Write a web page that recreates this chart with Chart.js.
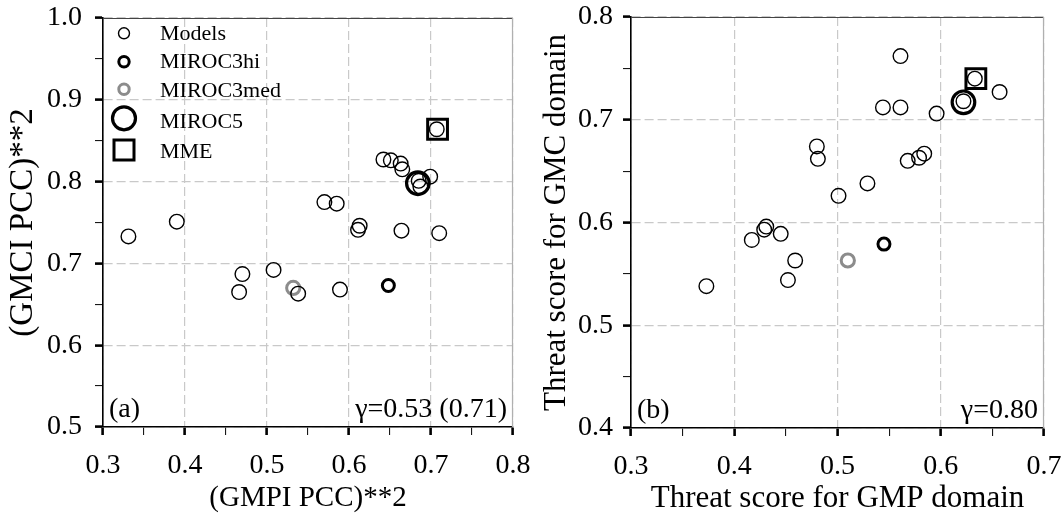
<!DOCTYPE html>
<html><head><meta charset="utf-8">
<script src="https://cdn.jsdelivr.net/npm/chart.js@4.4.1/dist/chart.umd.min.js"></script>
<style>
html,body{margin:0;padding:0;background:#fff;overflow:hidden}
#wrapA{position:absolute;left:0;top:0;width:530px;height:520px}
#wrapB{position:absolute;left:530px;top:0;width:531px;height:520px}
</style></head><body>
<div id="wrapA"><canvas id="cA" width="530" height="520"></canvas></div>
<div id="wrapB"><canvas id="cB" width="531" height="520"></canvas></div>
<script>
// ---------- data ----------
const seriesNames = ['Models', 'MIROC3hi', 'MIROC3med', 'MIROC5', 'MME'];

// panel (a)
const modelsA_x = [0.331,0.390,0.466,0.470,0.508,0.538,0.589,0.570,0.585,0.613,0.611,0.664,0.710,0.642,0.651,0.663,0.665,0.699,0.685,0.687,0.707];
const modelsA_y = [0.733,0.751,0.665,0.687,0.692,0.663,0.668,0.775,0.773,0.746,0.741,0.740,0.737,0.827,0.826,0.822,0.815,0.806,0.801,0.794,0.864];
const miroc3hiA = [0.648, 0.673];
const miroc3medA = [0.532, 0.670];
const miroc5A = [0.684, 0.798];
const mmeA = [0.708, 0.864];
const xTicksA = ['0.3','0.4','0.5','0.6','0.7','0.8'];
const yTicksA = ['0.5','0.6','0.7','0.8','0.9','1.0'];

// panel (b)
const modelsB_x = [0.373,0.417,0.429,0.431,0.445,0.459,0.452,0.501,0.529,0.480,0.481,0.568,0.579,0.584,0.544,0.561,0.561,0.596,0.622,0.633,0.657];
const modelsB_y = [0.538,0.583,0.593,0.596,0.589,0.563,0.544,0.626,0.638,0.674,0.662,0.660,0.663,0.667,0.712,0.712,0.762,0.706,0.718,0.740,0.727];
const miroc3hiB = [0.545, 0.579];
const miroc3medB = [0.510, 0.563];
const miroc5B = [0.622, 0.717];
const mmeB = [0.634, 0.740];
const xTicksB = ['0.3','0.4','0.5','0.6','0.7'];
const yTicksB = ['0.4','0.5','0.6','0.7','0.8'];

const panelLabels = ['(a)', '(b)'];
const gammaTexts = ['\u03B3=0.53 (0.71)', '\u03B3=0.80'];
const axisTitles = {
  ax: '(GMPI PCC)**2', ay: '(GMCI PCC)**2',
  bx: 'Threat score for GMP domain', by: 'Threat score for GMC domain'
};

// ---------- chart helpers ----------
const FONT = '"Liberation Serif", "Times New Roman", serif';
Chart.defaults.font.family = FONT;
Chart.defaults.color = '#000';

function toPts(xs, ys) { return xs.map((x, i) => ({x: x, y: ys[i]})); }
function pt(p) { return [{x: p[0], y: p[1]}]; }

function majorLabel(labels, v) {
  const i = labels.findIndex(l => Math.abs(parseFloat(l) - v) < 1e-6);
  return i >= 0 ? labels[i] : null;
}

function makeScale(axis, labels, title, fixed, tickPad, titleSize, titlePad) {
  const min = parseFloat(labels[0]), max = parseFloat(labels[labels.length - 1]);
  return {
    type: 'linear', min: min, max: max,
    ticks: {
      stepSize: 0.05, autoSkip: false, maxRotation: 0, color: '#000',
      font: {size: 28, family: FONT}, padding: tickPad,
      callback: (v) => { const l = majorLabel(labels, v); return l === null ? '' : l; }
    },
    grid: {
      color: (c) => (c.tick && majorLabel(labels, c.tick.value) !== null) ? '#c9c9c9' : 'rgba(0,0,0,0)',
      lineWidth: 1.2, tickLength: 8, tickColor: '#000',
      tickWidth: (c) => (c.tick && majorLabel(labels, c.tick.value) !== null) ? 2.6 : 1,
      tickBorderDash: [], drawTicks: true
    },
    border: {display: true, color: '#000', width: 1.6, dash: [9, 4]},
    title: {display: true, text: title, color: '#000', font: {size: titleSize, family: FONT},
      padding: axis === 'x' ? {top: 0, bottom: titlePad} : {top: titlePad, bottom: 0}},
    afterFit: (s) => {
      if (axis === 'x') s.height = fixed; else s.width = fixed;
      s.paddingLeft = 0; s.paddingRight = 0; s.paddingTop = 0; s.paddingBottom = 0;
    }
  };
}

function makeDatasets(models, hi, med, m5, mme) {
  const base = {showLine: false, pointBackgroundColor: 'rgba(0,0,0,0)'};
  return [
    Object.assign({}, base, {label: seriesNames[0], data: models, pointStyle: 'circle', pointRadius: 7.3, pointHoverRadius: 7.3, pointBorderWidth: 1.4, pointBorderColor: '#000', legendR: 5.5}),
    Object.assign({}, base, {label: seriesNames[1], data: hi, pointStyle: 'circle', pointRadius: 6, pointHoverRadius: 6, pointBorderWidth: 3, pointBorderColor: '#000', legendR: 5.2}),
    Object.assign({}, base, {label: seriesNames[2], data: med, pointStyle: 'circle', pointRadius: 6.6, pointHoverRadius: 6.6, pointBorderWidth: 3, pointBorderColor: '#8c8c8c', legendR: 5.2}),
    Object.assign({}, base, {label: seriesNames[3], data: m5, pointStyle: 'circle', pointRadius: 11.3, pointHoverRadius: 11.3, pointBorderWidth: 3.2, pointBorderColor: '#000', legendR: 11.5}),
    Object.assign({}, base, {label: seriesNames[4], data: mme, pointStyle: 'rect', pointRadius: 14, pointHoverRadius: 14, pointBorderWidth: 3, pointBorderColor: '#000', legendR: 10})
  ];
}

// frame: top and right lines
const framePlugin = {
  id: 'frameLines',
  beforeDatasetsDraw(chart) {
    const {ctx, chartArea: a} = chart;
    ctx.save();
    ctx.lineWidth = 1.2;
    ctx.strokeStyle = '#444';
    ctx.beginPath(); ctx.moveTo(a.left, a.top + 0.5); ctx.lineTo(a.right, a.top + 0.5); ctx.stroke();
    ctx.strokeStyle = '#b0b0b0';
    ctx.beginPath(); ctx.moveTo(a.right - 0.5, a.top); ctx.lineTo(a.right - 0.5, a.bottom); ctx.stroke();
    ctx.restore();
  }
};

// panel annotations
const textPlugin = {
  id: 'panelText',
  afterDatasetsDraw(chart, args, opts) {
    const {ctx, chartArea: a} = chart;
    ctx.save();
    ctx.fillStyle = '#000';
    ctx.textBaseline = 'alphabetic';
    ctx.font = '28px ' + FONT;
    ctx.textAlign = 'left';
    ctx.fillText(opts.label, a.left + 6, a.bottom - 10);
    ctx.font = '28px ' + FONT;
    ctx.textAlign = 'right';
    ctx.fillText(opts.gamma, a.right - 6, a.bottom - 10);
    ctx.restore();
  }
};

// legend inside chart area (panel a)
const insideLegend = {
  id: 'insideLegend',
  afterDatasetsDraw(chart, args, opts) {
    if (!opts.show) return;
    const {ctx, chartArea: a} = chart;
    const markerY = [15.3, 43.7, 71.3, 100.3, 132];
    const textY = [21.5, 50.3, 78.7, 110.3, 140.3];
    ctx.save();
    chart.data.datasets.forEach((ds, i) => {
      const cx = a.left + 21, cy = a.top + markerY[i];
      ctx.strokeStyle = ds.pointBorderColor;
      ctx.lineWidth = ds.pointBorderWidth;
      ctx.beginPath();
      if (ds.pointStyle === 'rect') {
        ctx.rect(cx - ds.legendR, cy - ds.legendR, ds.legendR * 2, ds.legendR * 2);
      } else {
        ctx.arc(cx, cy, ds.legendR, 0, Math.PI * 2);
      }
      ctx.stroke();
      ctx.fillStyle = '#000';
      ctx.font = '22px ' + FONT;
      ctx.textAlign = 'left';
      ctx.textBaseline = 'alphabetic';
      ctx.fillText(ds.label, a.left + 57, a.top + textY[i]);
    });
    ctx.restore();
  }
};

function makeChart(id, datasets, xs, ys, pad, legendShow, idx) {
  return new Chart(document.getElementById(id), {
    type: 'scatter',
    data: {datasets: datasets},
    options: {
      responsive: false, animation: false, devicePixelRatio: 1,
      layout: {padding: pad, autoPadding: false},
      plugins: {
        legend: {display: false}, tooltip: {enabled: false},
        insideLegend: {show: legendShow},
        panelText: {label: panelLabels[idx], gamma: gammaTexts[idx]}
      },
      scales: {x: xs, y: ys}
    },
    plugins: [framePlugin, textPlugin, insideLegend]
  });
}

makeChart('cA',
  makeDatasets(toPts(modelsA_x, modelsA_y), pt(miroc3hiA), pt(miroc3medA), pt(miroc5A), pt(mmeA)),
  makeScale('x', xTicksA, axisTitles.ax, 93, 14, 29, 4),
  makeScale('y', yTicksA, axisTitles.ay, 103, 13, 33, 4),
  {top: 18, right: 17, left: 0, bottom: 0}, true, 0);

makeChart('cB',
  makeDatasets(toPts(modelsB_x, modelsB_y), pt(miroc3hiB), pt(miroc3medB), pt(miroc5B), pt(mmeB)),
  makeScale('x', xTicksB, axisTitles.bx, 92, 14, 31, 3),
  makeScale('y', yTicksB, axisTitles.by, 101, 10, 31, 8),
  {top: 17, right: 17, left: 0, bottom: 0}, false, 1);
</script>
</body></html>
